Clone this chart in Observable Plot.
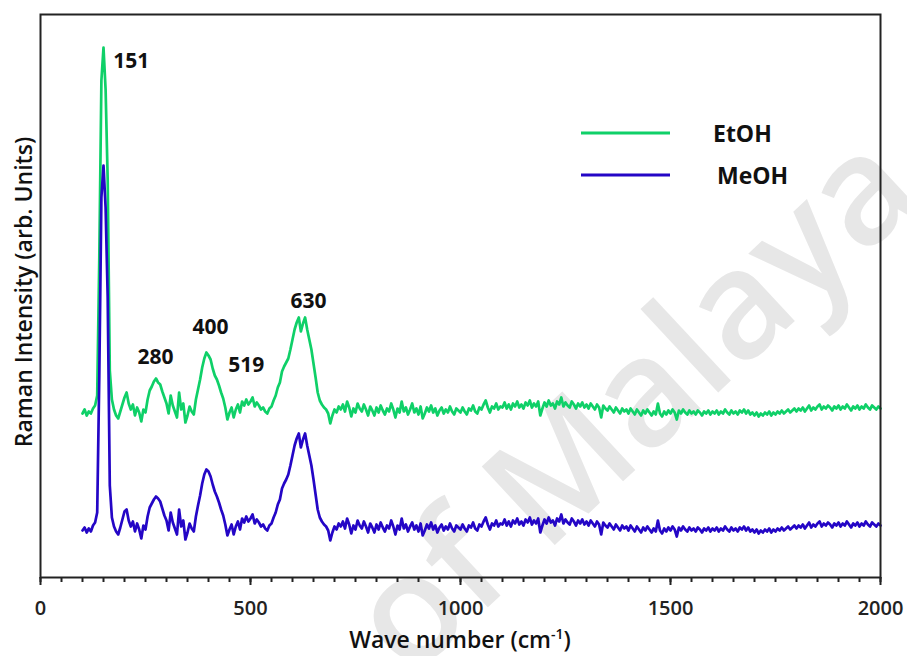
<!DOCTYPE html>
<html><head><meta charset="utf-8">
<script src="https://cdn.jsdelivr.net/npm/d3@7"></script>
<script src="https://cdn.jsdelivr.net/npm/@observablehq/plot@0.6"></script>
<style>
body{margin:0;background:#fff;}
#chart{position:relative;width:907px;height:656px;}
</style></head><body><div id="chart"></div>
<script>
const series = ["EtOH", "MeOH"];
const colors = ["#0fd068", "#2406c6"];
// Raman shift sampling grid (cm-1)
const wavenumbers = d3.range(100, 2001, 5);
// Intensities (arb. units), EtOH trace
const etoh = [
162,166,160,164,162,167,170,180,318,495,528,486,395,205,176,166,160,157,164,171,
178,183,172,166,171,160,168,163,154,166,163,176,185,189,194,197,193,191,184,178,
172,162,180,170,164,158,183,166,172,153,160,169,164,161,176,186,196,208,217,223,
220,216,207,200,196,190,183,177,168,156,163,168,158,166,171,163,174,170,176,171,
174,178,169,173,170,166,168,164,162,167,169,175,180,188,193,204,209,213,217,226,
236,246,253,258,244,252,258,246,236,226,212,198,183,175,171,168,166,162,152,160,
166,163,169,166,171,164,174,168,159,167,163,172,167,164,171,166,160,169,165,160,
168,163,170,165,161,167,164,172,166,158,167,163,174,164,168,161,166,172,163,167,
161,169,157,162,168,164,170,163,167,160,165,168,162,166,163,169,164,161,167,165,
163,168,164,161,167,165,170,164,162,168,166,171,175,168,163,169,167,172,166,169,
168,173,167,171,166,172,169,174,168,171,167,173,170,175,168,172,169,174,160,167,
173,169,175,170,172,167,174,171,178,169,173,170,168,174,171,167,172,169,173,168,
171,167,172,169,166,171,168,158,170,167,165,169,166,163,168,165,162,167,164,166,
162,167,164,161,166,163,160,165,162,166,163,160,164,161,172,162,159,164,161,165,
162,166,163,156,165,162,166,163,161,165,162,164,161,165,163,160,164,162,165,161,
164,162,165,161,164,162,166,163,161,165,162,164,161,165,163,166,162,165,161,163,
160,163,159,162,160,163,161,164,160,163,161,164,162,165,162,164,166,163,165,167,
164,167,165,168,164,167,170,165,168,166,169,171,166,169,167,170,168,165,169,167,
170,166,169,167,171,168,165,169,167,170,166,169,167,171,168,166,170,168,166,169,
167];
// MeOH trace
const meoh = [
45,48,43,47,44,50,53,63,200,378,410,368,278,90,58,49,44,41,48,56,
64,66,55,49,54,44,52,46,37,50,46,59,68,72,76,79,77,74,67,60,
55,45,63,53,47,41,66,49,55,36,43,52,47,44,59,70,80,92,101,106,
104,99,91,84,79,73,66,60,51,40,46,51,41,49,54,46,57,53,59,54,
57,61,52,56,53,49,51,47,45,50,52,58,63,71,76,87,92,96,101,110,
120,130,137,142,128,136,142,130,120,110,96,81,66,58,54,51,49,45,35,43,
49,46,52,49,54,47,57,51,42,50,46,55,50,47,54,49,43,52,48,43,
51,46,53,48,44,50,47,55,49,41,50,46,57,47,51,44,49,53,46,50,
44,52,40,45,51,47,53,46,50,43,48,51,45,49,46,52,47,44,50,48,
46,51,47,44,50,48,53,47,45,51,49,54,58,51,46,52,50,55,49,52,
51,56,50,54,49,55,52,57,51,54,50,56,53,58,51,55,52,57,43,50,
56,52,58,53,55,50,57,54,61,52,56,53,51,57,54,50,55,52,56,51,
54,50,55,52,49,54,51,41,53,50,48,52,49,46,51,48,45,50,47,49,
45,50,47,44,49,46,43,48,45,49,46,43,47,44,55,45,42,47,44,48,
45,49,46,39,48,45,49,46,44,48,45,47,44,48,46,43,47,45,48,44,
47,45,48,44,47,45,49,46,44,48,45,47,44,48,46,49,45,48,44,46,
43,46,42,45,43,46,44,47,43,46,44,47,45,48,45,47,49,46,48,50,
47,50,48,51,47,50,53,48,51,49,52,54,49,52,50,53,51,48,52,50,
53,49,52,50,54,51,48,52,50,53,49,52,50,54,51,49,53,51,49,52,
50];
const peakLabels = ["151", "280", "400", "519", "630"];
const peakLabelX = [216, 274, 405, 490, 638];
const peakLabelY = [514, 218, 248, 210, 274];
const xTicks = [0, 500, 1000, 1500, 2000];
const xMinorTicks = d3.range(0, 2001, 50);

const rows = [];
series.forEach((s, k) => {
  const vals = k === 0 ? etoh : meoh;
  wavenumbers.forEach((w, i) => rows.push({series: s, w, v: vals[i]}));
});

const plot = Plot.plot({
  width: 907, height: 656,
  marginLeft: 40, marginRight: 27, marginTop: 14, marginBottom: 79,
  style: {fontFamily: "'Open Sans', sans-serif", fontSize: "20px", fontWeight: 600, color: "#222", background: "#fff"},
  x: {domain: [0, 2000]},
  y: {domain: [-2, 561], axis: null},
  color: {domain: series, range: colors},
  marks: [
    Plot.line(rows, {x: "w", y: "v", z: "series", stroke: "series", strokeWidth: 2.7, strokeLinejoin: "round"}),
    Plot.text(peakLabels, {x: (d, i) => peakLabelX[i], y: (d, i) => peakLabelY[i], text: d => d, fontSize: 21, fontWeight: 700, fill: "#111", lineAnchor: "middle"}),
    Plot.axisX({ticks: xMinorTicks, tickSize: 5, tickFormat: () => "", label: null, strokeWidth: 2}),
    Plot.axisX({ticks: xTicks, tickSize: 8, tickPadding: 15, tickFormat: d => String(d), label: null, fontSize: 20, fontWeight: 600, strokeWidth: 2}),
    Plot.frame({stroke: "#222", strokeWidth: 2})
  ]
});

const svg = d3.select(plot);
// watermark behind everything
svg.insert("text", ":first-child")
  .attr("transform", "translate(640,410) rotate(-43)")
  .attr("text-anchor", "middle").attr("dy", "0.27em")
  .style("font-family", "'Open Sans', sans-serif").style("font-size", "150px").style("font-weight", 600)
  .attr("fill", "#e7e7e7").text("of Malaya");
svg.insert("rect", ":first-child").attr("width", 907).attr("height", 656).attr("fill", "#fff");

// axis titles
svg.append("text").attr("transform", "translate(32,292) rotate(-90)").attr("text-anchor", "middle")
  .style("font-size", "23px").style("font-weight", 600).attr("fill", "#111")
  .text("Raman Intensity (arb. Units)");
const xt = svg.append("text").attr("x", 460).attr("y", 648).attr("text-anchor", "middle")
  .style("font-size", "23px").style("font-weight", 600).attr("fill", "#111");
xt.append("tspan").text("Wave number (cm");
xt.append("tspan").attr("dy", -9).style("font-size", "14px").text("-1");
xt.append("tspan").attr("dy", 9).text(")");

// legend
const legend = [{name: series[0], color: colors[0], y: 133, tx: 713}, {name: series[1], color: colors[1], y: 175, tx: 717}];
legend.forEach(l => {
  svg.append("line").attr("x1", 581).attr("x2", 670).attr("y1", l.y).attr("y2", l.y)
    .attr("stroke", l.color).attr("stroke-width", 3);
  svg.append("text").attr("x", l.tx).attr("y", l.y + 9).attr("text-anchor", "start")
    .style("font-size", "23px").style("font-weight", 700)
    .attr("fill", "#111").text(l.name);
});

document.getElementById("chart").appendChild(plot);
</script></body></html>
